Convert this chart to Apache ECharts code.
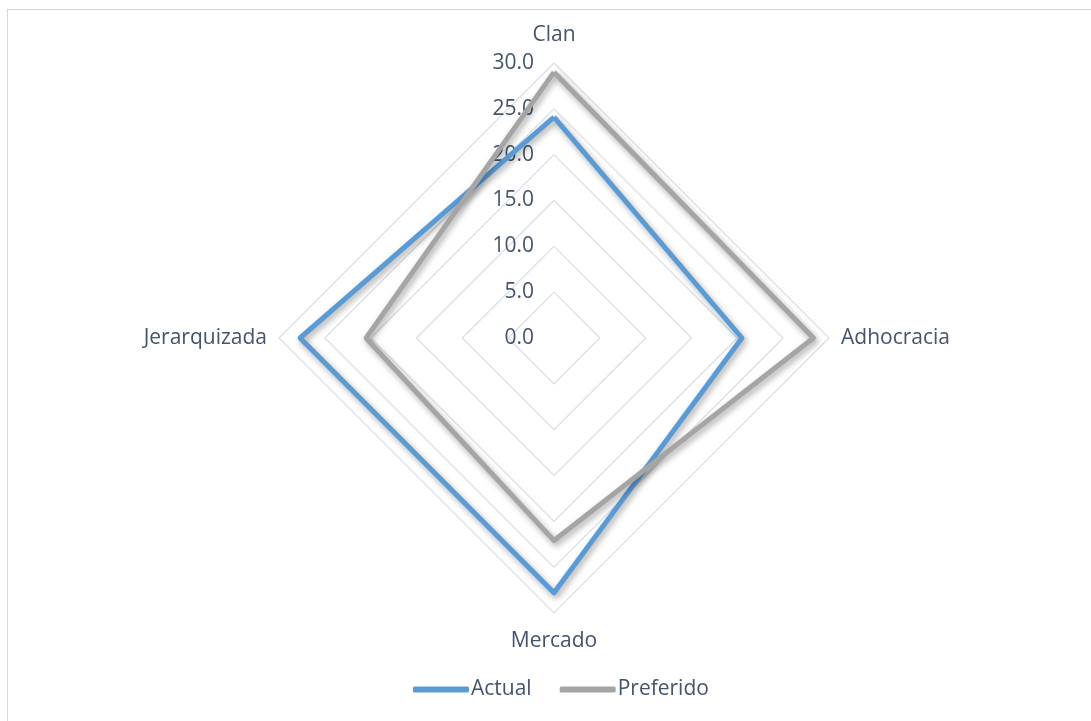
<!DOCTYPE html>
<html>
<head>
<meta charset="utf-8">
<script src="https://cdn.jsdelivr.net/npm/echarts@6/dist/echarts.min.js"></script>
<style>
  html, body { margin: 0; padding: 0; background: #ffffff; }
  #frame { position: absolute; left: 7px; top: 9px; width: 1100px; height: 730px; border: 1px solid #D9D9D9; box-sizing: border-box; }
  #chart { position: absolute; left: 0; top: 0; width: 1091px; height: 721px; }
</style>
</head>
<body>
<div id="frame"></div>
<div id="chart"></div>
<script>
// Culture profile dimensions (clockwise from the top)
const categories = ['Clan', 'Adhocracia', 'Mercado', 'Jerarquizada'];
const actualValues = [24.1, 20.5, 27.8, 27.7];
const preferidoValues = [29.0, 28.3, 22.1, 20.5];
const seriesNames = ['Actual', 'Preferido'];
const axisMax = 30;
const axisStep = 5;

const chart = echarts.init(document.getElementById('chart'));

// ECharts lays radar indicators out counter-clockwise, so walk the
// categories the other way round to keep them clockwise on screen.
const order = [0, 3, 2, 1];
const indicator = order.map((i, k) => {
  const ind = { name: categories[i], max: axisMax, min: 0 };
  if (k === 0) ind.axisLabel = { show: true };
  return ind;
});
const pick = arr => order.map(i => arr[i]);

const textColor = '#44546A';
const font = 'Open Sans';
const shadow = {
  shadowColor: 'rgba(0,0,0,0.35)',
  shadowBlur: 6,
  shadowOffsetX: 2,
  shadowOffsetY: 3
};

chart.setOption({
  animation: false,
  legend: {
    bottom: 16,
    left: 408,
    itemWidth: 56,
    itemHeight: 6,
    itemGap: 28,
    icon: 'roundRect',
    textStyle: { color: textColor, fontSize: 21, fontFamily: font, padding: [0, 0, 0, -3] },
    data: seriesNames
  },
  radar: {
    center: [554, 338],
    radius: 275,
    startAngle: 90,
    shape: 'polygon',
    splitNumber: axisMax / axisStep,
    indicator: indicator,
    axisName: { color: textColor, fontSize: 21, fontFamily: font, lineHeight: 32 },
    nameGap: 12,
    axisLine: { show: false },
    axisTick: { show: false },
    axisLabel: {
      show: false,
      color: textColor,
      fontSize: 21,
      fontFamily: font,
      margin: 20,
      formatter: v => v.toFixed(1)
    },
    splitLine: { lineStyle: { color: '#D9DDE6', width: 1.2 } },
    splitArea: { show: false }
  },
  series: [{
    type: 'radar',
    symbol: 'none',
    data: [
      {
        name: seriesNames[0],
        value: pick(actualValues),
        lineStyle: Object.assign({ color: '#5B9BD5', width: 5 }, shadow),
        itemStyle: { color: '#5B9BD5' }
      },
      {
        name: seriesNames[1],
        value: pick(preferidoValues),
        lineStyle: Object.assign({ color: '#A5A5A5', width: 5 }, shadow),
        itemStyle: { color: '#A5A5A5' }
      }
    ]
  }]
});
</script>
</body>
</html>
